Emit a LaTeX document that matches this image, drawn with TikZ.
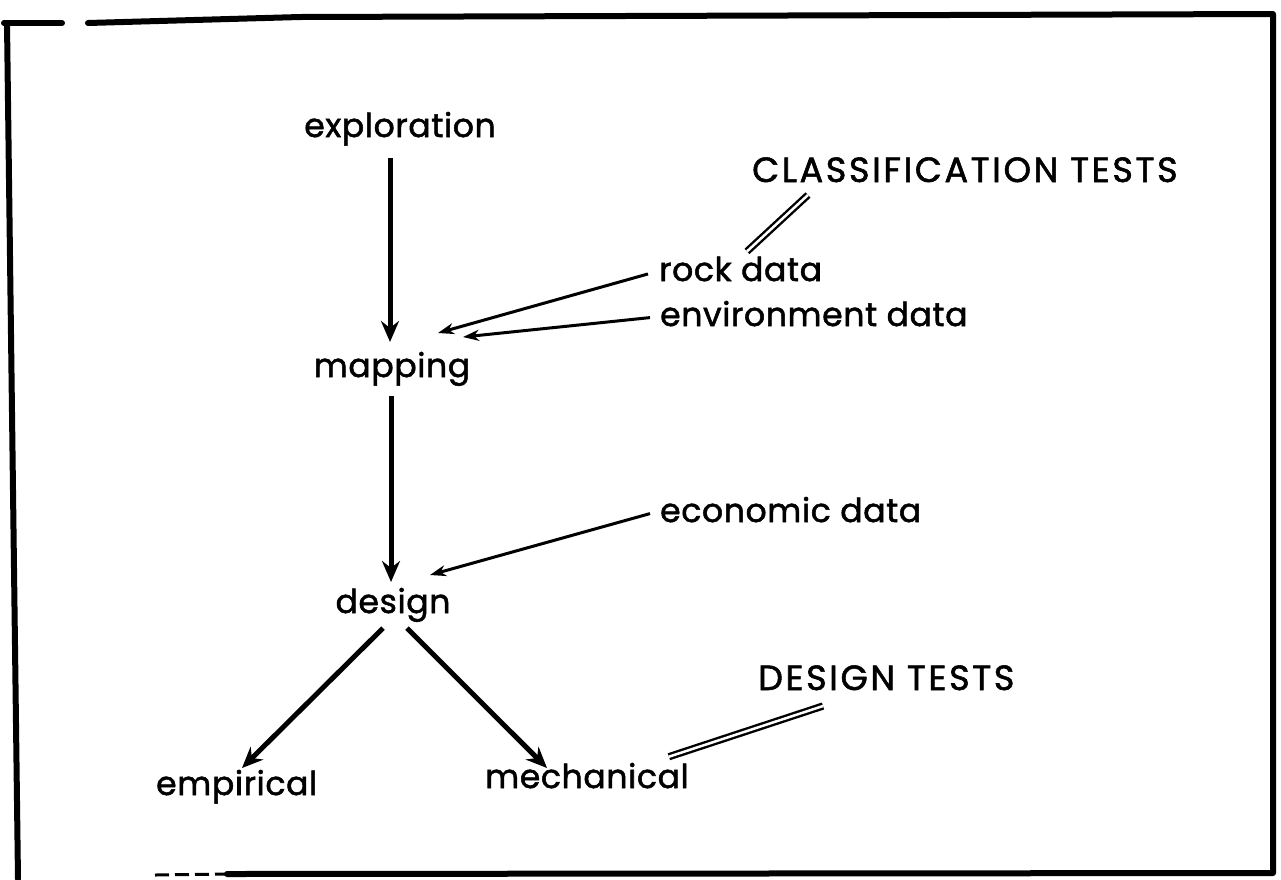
\documentclass[tikz,border=0pt]{standalone}
\usepackage{fontspec}
\setmainfont{Poppins}
\newfontfamily\labfont{Poppins}[FakeBold=1.6, LetterSpace=2]
\newfontfamily\capfont{Poppins}[FakeBold=1.6, LetterSpace=7.5]
\usetikzlibrary{arrows.meta,calc}
\tikzset{
  lbl/.style={inner sep=0pt, font=\labfont\fontsize{33}{38}\selectfont},
  caps/.style={inner sep=0pt, font=\capfont\fontsize{35}{40}\selectfont},
  frame/.style={line width=6pt, line cap=round, line join=round},
  mainarr/.style={line width=5pt, -{Stealth[length=21pt,width=18pt,inset=7pt]}},
  thinarr/.style={line width=3pt, -{Stealth[length=16pt,width=11pt,inset=5pt]}},
  dbl/.style={double, double distance=2.5pt, line width=2.4pt}
}
\begin{document}
\begin{tikzpicture}[x=1pt,y=-1pt]
\useasboundingbox (0,0) rectangle (1281,879);
% frame
\draw[frame] (4,23) -- (62,23);
\draw[frame] (88,23) -- (300,17) -- (1273,14) -- (1273,873) -- (227,874);
\draw[line width=3pt, dash pattern=on 14pt off 6pt] (155,875) -- (227,874);
\draw[frame] (7,23) -- (18,879);
% labels
\node[lbl, anchor=base] (exploration) at (400,137) {exploration};
\node[lbl, anchor=base] (mapping) at (392,377) {mapping};
\node[lbl, anchor=base] (design) at (393,613) {design};
\node[lbl, anchor=base west] (empirical) at (156,795) {empirical};
\node[lbl, anchor=base west] (mechanical) at (485,788) {mechanical};
\node[lbl, anchor=base west] (rock) at (659,281) {rock data};
\node[lbl, anchor=base west] (env) at (660,326) {environment data};
\node[lbl, anchor=base west] (econ) at (660,522) {economic data};
\node[caps, anchor=base west] (class) at (752,182) {CLASSIFICATION TESTS};
\node[caps, anchor=base west] (dtests) at (758,690) {DESIGN TESTS};
% arrow ends
\coordinate (mapIn) at (390,342);
\coordinate (desIn) at (391,582);
\coordinate (empIn) at (242,768);
\coordinate (mechIn) at (547,768);
\coordinate (rockIn) at (438,333);
\coordinate (envIn) at (463,337);
\coordinate (econIn) at (430,575);
% main arrows
\draw[mainarr] ($(exploration.south)+(-10,12)$) -- (mapIn);
\draw[mainarr] ($(mapping.south)+(-1,10)$) -- (desIn);
\draw[mainarr] ($(design.south)+(-10,6)$) -- (empIn);
\draw[mainarr] ($(design.south)+(14,6)$) -- (mechIn);
% thin arrows
\draw[thinarr] ($(rock.west)+(-11,5)$) -- (rockIn);
\draw[thinarr] ($(env.west)+(-10,4)$) -- (envIn);
\draw[thinarr] ($(econ.west)+(-10,4)$) -- (econIn);
% double lines
\coordinate (clsEnd) at (808,195);
\coordinate (dtEnd) at (823,706);
\draw[dbl] ($(rock.north west)+(88,-5)$) -- (clsEnd);
\draw[dbl] ($(mechanical.north east)+(-20,-6)$) -- (dtEnd);
\end{tikzpicture}
\end{document}
